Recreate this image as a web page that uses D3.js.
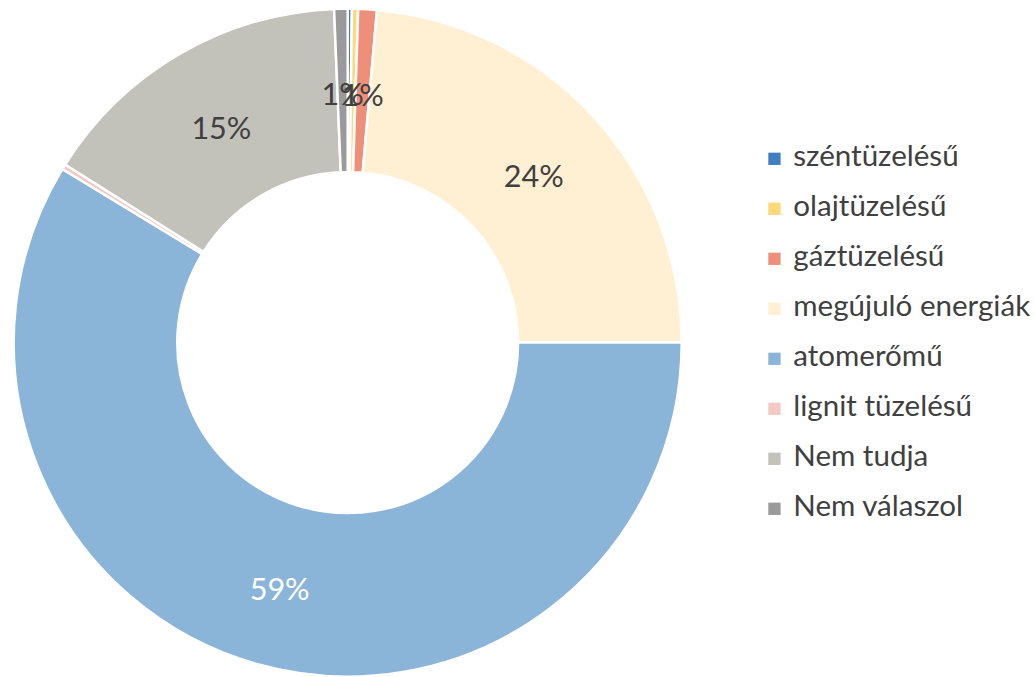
<!DOCTYPE html>
<html>
<head>
<meta charset="utf-8">
<script src="https://cdn.jsdelivr.net/npm/d3@7"></script>
<style>
  html, body { margin: 0; padding: 0; background: #ffffff; }
  svg { display: block; }
</style>
</head>
<body>
<svg id="chart" width="1035" height="677"></svg>
<script>
// ---- data ----
const categories = ["széntüzelésű", "olajtüzelésű", "gáztüzelésű", "megújuló energiák", "atomerőmű", "lignit tüzelésű", "Nem tudja", "Nem válaszol"];
const values = [0.2, 0.3, 0.9, 23.6, 58.7, 0.25, 15.4, 0.65];
const colors = ["#3f7fc1", "#ffd879", "#ee9079", "#fff0d3", "#8bb4d9", "#f4c8c4", "#c2c2ba", "#9a9a9a"];
const labelColors = ["#404040", "#404040", "#404040", "#404040", "#ffffff", "#404040", "#404040", "#404040"];

const FONT = "Lato, 'Open Sans', sans-serif";
const svg = d3.select("#chart");

const cx = 347.7, cy = 342.6;
const outerR = 334, innerR = 170.4;

const data = categories.map((c, i) => ({ name: c, value: values[i], color: colors[i], lc: labelColors[i] }));

const pie = d3.pie().sort(null).value(d => d.value).startAngle(0).endAngle(2 * Math.PI);
const arc = d3.arc().innerRadius(innerR).outerRadius(outerR);
const total = d3.sum(values);

const g = svg.append("g").attr("transform", `translate(${cx},${cy})`);
const arcs = pie(data);

g.selectAll("path.slice")
  .data(arcs)
  .join("path")
  .attr("class", "slice")
  .attr("d", arc)
  .attr("fill", d => d.data.color)
  .attr("stroke", "#ffffff")
  .attr("stroke-width", 2.5)
  .attr("stroke-linejoin", "miter");

// helper to fit font size to target width
function fitSize(text, targetWidth, baseSize) {
  const t = svg.append("text").attr("font-family", FONT).attr("font-size", baseSize).text(text);
  const w = t.node().getComputedTextLength();
  t.remove();
  return baseSize * targetWidth / w;
}

const labelSize = Math.min(34.6, fitSize("24%", 60, 30));
const labelArc = d3.arc().innerRadius((innerR + outerR) / 2).outerRadius((innerR + outerR) / 2);

g.selectAll("text.lbl")
  .data(arcs.filter(d => Math.round(d.data.value / total * 100) >= 1))
  .join("text")
  .attr("class", "lbl")
  .attr("transform", d => { const [x, y] = labelArc.centroid(d); return `translate(${x},${y + 4})`; })
  .attr("text-anchor", "middle")
  .attr("dy", "0.36em")
  .attr("font-family", FONT)
  .attr("font-size", labelSize)
  .attr("fill", d => d.data.lc)
  .text(d => Math.round(d.data.value / total * 100) + "%");

// ---- legend ----
const legendSize = fitSize("megújuló energiák", 237, 24);
const lg = svg.append("g");
const rowY = d3.scalePoint().domain(categories).range([158.8, 508.8]);
const item = lg.selectAll("g.item").data(data).join("g").attr("class", "item")
  .attr("transform", d => `translate(768.3,${rowY(d.name)})`);
item.append("rect")
  .attr("x", 0).attr("y", -6.15).attr("width", 12.3).attr("height", 12.3)
  .attr("fill", d => d.color);
item.append("text")
  .attr("x", 25).attr("y", 7.5)
  .attr("font-family", FONT)
  .attr("font-size", legendSize)
  .attr("fill", "#404040")
  .text(d => d.name);
</script>
</body>
</html>
